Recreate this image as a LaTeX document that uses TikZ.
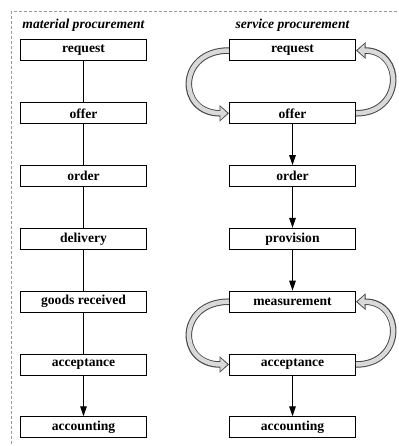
\documentclass[tikz,border=0pt]{standalone}
\usepackage{fontspec}
\setmainfont{Liberation Serif}
\usetikzlibrary{arrows.meta}
\usetikzlibrary{positioning}

\tikzset{
  box/.style={draw=black, fill=white, line width=1pt, minimum width=126pt,
    minimum height=21pt, inner sep=0pt},
  conn/.style={line width=1.2pt},
  flow/.style={conn, -{Triangle[length=10pt,width=6.5pt]}},
  cyclearrow/.style={draw=gray!30, line width=4.5pt, shorten >=1.6pt,
    -{Triangle[length=7pt,width=12.5pt]},
    preaction={draw=gray!55!black, line width=6.5pt, shorten >=0pt,
      -{Triangle[length=9.5pt,width=16pt]}}},
}

\begin{document}
\begin{tikzpicture}[x=1pt,y=-1pt,node distance=62.8pt,
    every node/.style={font=\fontsize{13.6}{15}\selectfont\bfseries}]
  \useasboundingbox (0,0) rectangle (398,446);
  \draw[gray!80, line width=0.6pt, dash pattern=on 3pt off 2pt] (11,11) rectangle (420,470);

  % material procurement
  \node (mhead) at (83.5,25) {\itshape material procurement};
  \node[box] (m1) at (83.5,50.5) {request};
  \node[box] (m2) [below of=m1] {offer};
  \node[box] (m3) [below of=m2] {order};
  \node[box] (m4) [below of=m3] {delivery};
  \node[box] (m5) [below of=m4] {goods received};
  \node[box] (m6) [below of=m5] {acceptance};
  \node[box] (m7) [below of=m6] {accounting};

  % service procurement
  \node (shead) at (292.5,25) {\itshape service procurement};
  \node[box] (s1) at (292.5,50.5) {request};
  \node[box] (s2) [below of=s1] {offer};
  \node[box] (s3) [below of=s2] {order};
  \node[box] (s4) [below of=s3] {provision};
  \node[box] (s5) [below of=s4] {measurement};
  \node[box] (s6) [below of=s5] {acceptance};
  \node[box] (s7) [below of=s6] {accounting};

  \foreach \i/\j in {m1/m2,m2/m3,m3/m4,m4/m5,m5/m6}
    \draw[conn] (\i) -- (\j);
  \draw[flow] (m6) -- (m7);
  \foreach \i/\j in {s2/s3,s3/s4,s4/s5,s6/s7}
    \draw[flow] (\i) -- (\j);

  % loops
  \foreach \a/\b in {s1/s2,s5/s6}{
    \draw[cyclearrow] (\a.west) .. controls +(-52,0) and +(-52,0) .. (\b.west);
    \draw[cyclearrow] (\b.east) .. controls +(48,0) and +(48,0) .. (\a.east);
  }
\end{tikzpicture}
\end{document}
